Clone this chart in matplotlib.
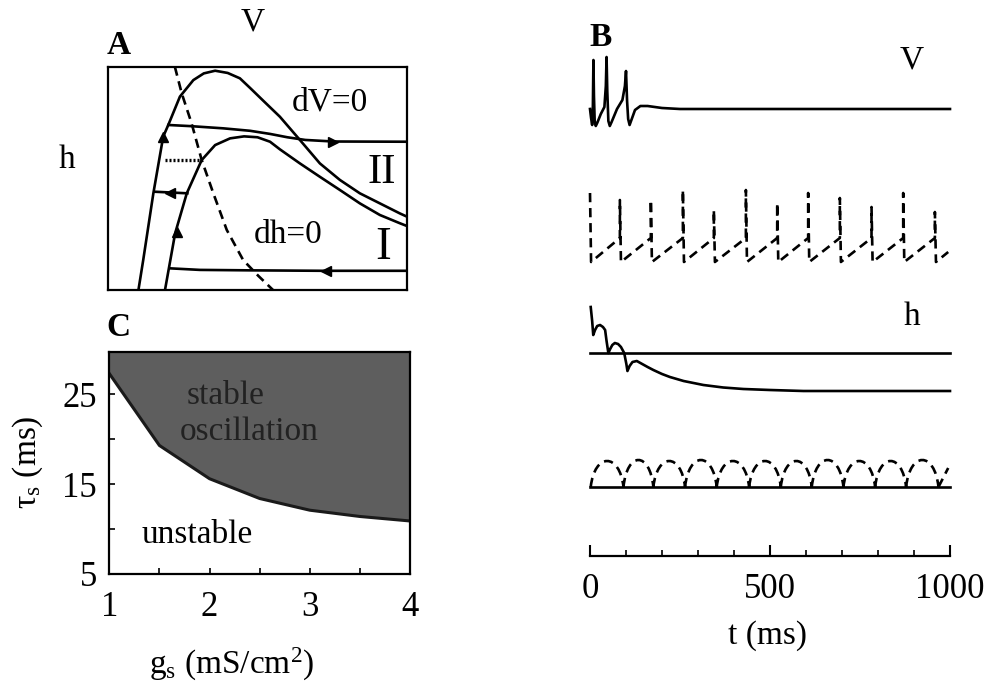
import numpy as np
import matplotlib.pyplot as plt
from matplotlib.path import Path
from matplotlib.patches import PathPatch

plt.rcParams['font.family'] = ['Liberation Serif', 'DejaVu Serif']
plt.rcParams['mathtext.fontset'] = 'custom'
plt.rcParams['mathtext.rm'] = 'Liberation Serif'
plt.rcParams['mathtext.it'] = 'Liberation Serif:italic'

W, H = 986, 693

# %% data -- panel A (phase plane, V and h in normalised units)
vnull2_v = [0.101, 0.117, 0.151, 0.184, 0.201, 0.240, 0.285, 0.320, 0.358, 0.400, 0.441,
            0.475, 0.519, 0.575, 0.642, 0.709, 0.776, 0.843, 0.910, 0.977, 1.0]
vnull2_h = [0.0, 0.134, 0.433, 0.687, 0.739, 0.866, 0.940, 0.970, 0.982, 0.972, 0.948,
            0.905, 0.848, 0.776, 0.672, 0.567, 0.493, 0.433, 0.388, 0.343, 0.329]
vnull1_v = [0.190, 0.224, 0.263, 0.313, 0.358, 0.408, 0.455, 0.500, 0.542, 0.575, 0.642,
            0.709, 0.776, 0.843, 0.910, 0.977, 1.0]
vnull1_h = [0.0, 0.254, 0.433, 0.582, 0.649, 0.679, 0.688, 0.684, 0.664, 0.630, 0.567,
            0.507, 0.448, 0.388, 0.336, 0.299, 0.287]
hnull_v = [0.223, 0.246, 0.279, 0.313, 0.352, 0.397, 0.452, 0.503, 0.552]
hnull_h = [1.0, 0.881, 0.747, 0.582, 0.433, 0.269, 0.134, 0.063, 0.0]
traj2_v = [0.201, 0.274, 0.385, 0.475, 0.542, 0.600, 0.660, 0.754, 1.0]
traj2_h = [0.739, 0.734, 0.724, 0.713, 0.699, 0.684, 0.672, 0.665, 0.664]
traj1_v = [1.0, 0.720, 0.475, 0.307, 0.207]
traj1_h = [0.086, 0.086, 0.088, 0.090, 0.097]
jump1_v = [0.265, 0.157]
jump1_h = [0.433, 0.440]
dot_v = [0.190, 0.307]
dot_h = [0.582, 0.582]

# %% data -- panel B (time courses, t in ms, traces in offset units)
v1_t = [0, 3, 6, 8, 9.5, 11, 13, 16, 20, 30, 40, 44, 46, 48, 51, 55, 60, 75, 90, 97,
        100, 103, 106, 110, 115, 125, 140, 160, 200, 250, 350, 1000]
v1_y = [447, 438, 431, 450, 496, 460, 435, 430, 433, 442, 449, 470, 499, 465, 435, 430,
        434, 447, 456, 470, 485, 455, 437, 431, 436, 446, 450, 450, 448, 447, 447, 447]

v2_spike_t = [0, 83, 169, 258, 344, 433, 520, 606, 694, 782, 870, 958]
v2_peak = [363, 356, 356, 366, 346, 366, 353, 363, 358, 349, 363, 344]
v2_ramp_top = 318
v2_trough = 294
v2_end = (995, 304)

h1_t = [2, 6, 9, 14, 20, 28, 36, 42, 46, 51, 56, 62, 69, 78, 86, 95, 101, 104, 110,
        118, 130, 145, 160, 176, 200, 222, 260, 315, 370, 426, 500, 593, 1000]
h1_y = [249, 235, 221, 226, 230, 231, 229, 226, 215, 203, 207, 211, 213, 212, 209, 203,
        192, 185, 190, 194, 195, 192, 189, 186, 182, 179, 175, 171, 168.5, 167, 166, 165, 165]
h1_ref = 203

h2_base_t = [2, 93, 176, 264, 352, 442, 530, 616, 704, 792, 878, 968]
h2_top = [95, 96, 95, 96, 95, 95, 95, 96, 95, 95, 96]
h2_base = 69
h2_end = (995, 88)

# %% data -- panel C
gs = [1.0, 1.5, 2.0, 2.5, 3.0, 3.5, 4.0]
tau_s = [27.3, 19.3, 15.6, 13.4, 12.1, 11.4, 10.9]

fig = plt.figure(figsize=(W / 100, H / 100), dpi=100)


def box(x0, y0, x1, y1):
    return [x0 / W, 1 - y1 / H, (x1 - x0) / W, (y1 - y0) / H]


def ftext(px, py, s, **kw):
    fig.text(px / W, 1 - py / H, s, ha='center', va='center', **kw)


lw = 1.9
fs = 24
tfs = 25

# %% panel A
axA = fig.add_axes(box(108.3, 66.7, 406.7, 290))
axA.set_xlim(0, 1)
axA.set_ylim(0, 1)
axA.set_xticks([])
axA.set_yticks([])
for s in axA.spines.values():
    s.set_linewidth(1.6)
axA.plot(vnull2_v, vnull2_h, color='k', lw=lw)
axA.plot(vnull1_v, vnull1_h, color='k', lw=lw)
axA.plot(hnull_v, hnull_h, color='k', lw=lw, ls=(0, (3.5, 2.2)))
axA.plot(traj2_v, traj2_h, color='k', lw=lw)
axA.plot(traj1_v, traj1_h, color='k', lw=lw)
axA.plot(jump1_v, jump1_h, color='k', lw=lw)
axA.plot(dot_v, dot_h, color='k', lw=2.4, ls=(0, (0.6, 0.6)))
# arrow heads
axA.plot(0.754, 0.664, marker='>', color='k', ms=7)
axA.plot(0.730, 0.086, marker='<', color='k', ms=7)
axA.plot(0.207, 0.436, marker='<', color='k', ms=7)
axA.plot(0.184, 0.687, marker='^', color='k', ms=7)
axA.plot(0.229, 0.261, marker='^', color='k', ms=7)
axA.text(0.743, 0.843, 'dV=0', fontsize=fs, ha='center', va='center')
axA.text(0.603, 0.246, 'dh=0', fontsize=fs, ha='center', va='center')
axA.text(0.916, 0.523, 'II', fontsize=31, ha='center', va='center')
axA.text(0.922, 0.187, 'I', fontsize=34, ha='center', va='center')

ftext(119, 46, 'A', fontsize=fs, fontweight='bold')
ftext(253, 22, 'V', fontsize=fs)
ftext(67, 160, 'h', fontsize=fs)

# %% panel C
axC = fig.add_axes(box(109.3, 352, 410, 574))
axC.set_xlim(1, 4)
axC.set_ylim(5, 29.7)
axC.fill_between(gs, tau_s, 29.7, color='#5e5e5e', lw=0)
axC.plot(gs, tau_s, color='#1a1a1a', lw=2.2)
for s in axC.spines.values():
    s.set_linewidth(1.6)
axC.set_xticks([1, 2, 3, 4])
axC.set_xticks([1.5, 2.5, 3.5], minor=True)
axC.set_yticks([5, 15, 25])
axC.set_yticks([10, 20], minor=True)
axC.tick_params(which='both', direction='in', length=4, width=1.2, labelsize=tfs)
axC.tick_params(axis='x', pad=12)
axC.tick_params(axis='y', pad=9)
axC.text(1.77, 24.8, 'stable', fontsize=fs, color='#222222', ha='left', va='center')
axC.text(1.70, 20.8, 'oscillation', fontsize=fs, color='#222222', ha='left', va='center')
axC.text(1.32, 9.4, 'unstable', fontsize=fs, ha='left', va='center')

ftext(118, 328, 'C', fontsize=fs, fontweight='bold')
ftext(232, 664, 'g$_{\\mathrm{s}}$ (mS/cm$^{2}$)', fontsize=fs)
ftext(28, 462, 'τ$_{\\mathrm{s}}$ (ms)', fontsize=fs, rotation=90)

# %% panel B
axB = fig.add_axes(box(590, 30, 950, 556))
axB.set_xlim(0, 1000)
axB.set_ylim(0, 526)
for k in ['top', 'left', 'right']:
    axB.spines[k].set_visible(False)
axB.spines['bottom'].set_linewidth(1.6)
axB.set_yticks([])
axB.set_xticks([0, 500, 1000])
axB.set_xticks(np.arange(100, 1000, 100), minor=True)
axB.tick_params(axis='x', which='major', direction='in', length=8, width=1.5,
                labelsize=tfs, pad=12)
axB.tick_params(axis='x', which='minor', direction='in', length=4, width=1.2)

axB.plot(v1_t, v1_y, color='k', lw=lw, clip_on=False)

v2_t, v2_y = [], []
for k, (ts, pk) in enumerate(zip(v2_spike_t, v2_peak)):
    if k > 0:
        v2_t.append(ts)
        v2_y.append(v2_ramp_top)
    v2_t += [ts, ts + 3]
    v2_y += [pk, v2_trough]
v2_t.append(v2_end[0])
v2_y.append(v2_end[1])
axB.plot(v2_t, v2_y, color='k', lw=lw, ls=(0, (3.5, 2.2)), clip_on=False)

axB.plot([0, 1000], [h1_ref, h1_ref], color='k', lw=lw, clip_on=False)
axB.plot(h1_t, h1_y, color='k', lw=lw, clip_on=False)

axB.plot([0, 1000], [h2_base, h2_base], color='k', lw=lw, clip_on=False)
verts, codes = [], []
for a, c, top in zip(h2_base_t[:-1], h2_base_t[1:], h2_top):
    d = 0.12 * (c - a)
    ctl = h2_base + 4 / 3 * (top - h2_base)
    verts += [(a, h2_base), (a + d, ctl), (c - d, ctl), (c, h2_base)]
    codes += [Path.MOVETO, Path.CURVE4, Path.CURVE4, Path.CURVE4]
verts += [(h2_base_t[-1], h2_base), h2_end]
codes += [Path.MOVETO, Path.LINETO]
axB.add_patch(PathPatch(Path(verts, codes), fill=False, color='k', lw=lw,
                        ls=(0, (3.5, 2.2)), clip_on=False))

ftext(601, 38, 'B', fontsize=fs, fontweight='bold')
ftext(912, 60, 'V', fontsize=fs)
ftext(912, 317, 'h', fontsize=fs)
ftext(767, 636, 't (ms)', fontsize=fs)

fig.savefig('out.png', dpi=100)
